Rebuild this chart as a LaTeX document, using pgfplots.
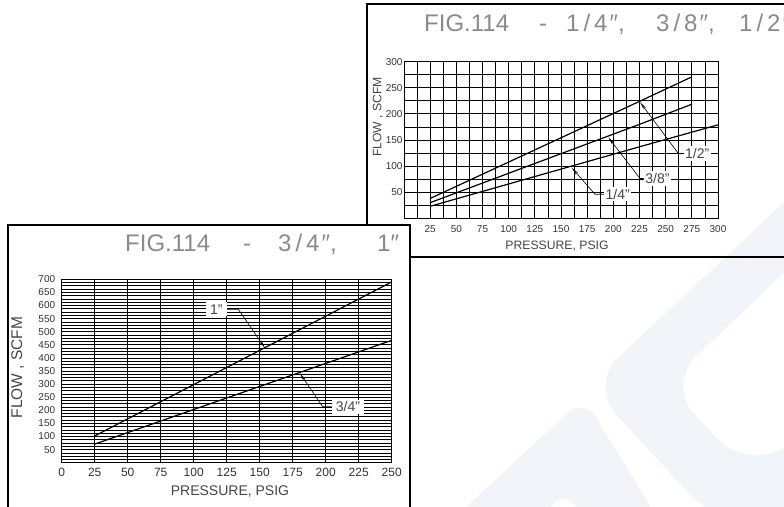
\documentclass[border=0pt]{standalone}
\usepackage{fontspec}
\setmainfont{Liberation Sans}
\usepackage{pgfplots}
\pgfplotsset{compat=1.18}
\usetikzlibrary{arrows.meta}
\definecolor{wm}{HTML}{F1F5FA}
\definecolor{ttl}{HTML}{8A8A8A}
\definecolor{lbl}{HTML}{454545}
\definecolor{tck}{HTML}{333333}
\tikzset{lead/.style={black, line width=0.6pt, -{Stealth[length=8pt,width=2.6pt]}}}
\begin{document}
\begin{tikzpicture}
\path[use as bounding box] (0,0) rectangle (784pt,506pt);
\clip (0,0) rectangle (784pt,506pt);
% ---------- background and top frame (pixel coordinates, y downwards)
\begin{scope}[x=1pt,y=-1pt,shift={(0pt,506pt)}]
  \fill[wm, rounded corners=40pt] (830,159) -- (589,385) -- (716,523) -- (830,523) -- (830,424) -- (744,468) -- (667,384) -- (830,229) -- cycle;
  \fill[wm, rounded corners=22pt] (452,520) -- (584,398) -- (659,520) -- cycle;
  \fill[white, rounded corners=8pt] (536,522) -- (563,495) -- (592,522) -- cycle;
  \draw[black, line width=2pt] (367,4) rectangle (800,256.8);
  \begin{scope}[every node/.style={anchor=base west, text=ttl, inner sep=0pt, font=\fontsize{24}{24}\selectfont}]
    \node at (424,31.7) {FIG.114};
    \node at (539,31.7) {-};
    \node at (566,31.7) {1\hspace{4pt}/\hspace{4pt}4\hspace{2pt}″,};
    \node at (656,31.7) {3\hspace{4pt}/\hspace{4pt}8\hspace{2pt}″,};
    \node at (739,31.7) {1\hspace{4pt}/\hspace{4pt}2\hspace{2pt}″};
  \end{scope}
  \node[rotate=90, text=lbl, font=\fontsize{12.2}{13}\selectfont] at (378,117) {FLOW , SCFM};
  \node[text=lbl, font=\fontsize{12.2}{13}\selectfont] at (557,246.5) {PRESSURE, PSIG};
\end{scope}
% ---------- top chart: 1/4", 3/8", 1/2"
\begin{axis}[
  at={(404pt,287.7pt)}, anchor=south west, scale only axis,
  width=314pt, height=156.6pt,
  xmin=0, xmax=300, ymin=0, ymax=300,
  xtick={25,50,...,300}, ytick={50,100,...,300},
  minor xtick={0,12.5,...,300}, minor ytick={0,25,...,300},
  grid=both,
  major grid style={black, line width=0.8pt},
  minor grid style={black, line width=0.8pt},
  major tick length=0pt, minor tick length=0pt,
  axis line style={black, line width=0.9pt},
  tick label style={font=\fontsize{10}{12}\selectfont, text=tck},
  /pgf/number format/assume math mode=true,
  xticklabel style={yshift=-3.5pt},
  yticklabel style={xshift=2pt},
  clip=false,
]
\addplot[black, line width=1.2pt] coordinates {(25,38) (125,131) (225,224) (274,270)};
\addplot[black, line width=1.2pt] coordinates {(25,30) (125,105) (225,180) (275,218.5)};
\addplot[black, line width=1.2pt] coordinates {(25,23) (125,80) (225,137) (300,179)};
\draw[lead] (axis cs:267,124.2) -- (axis cs:262.1,124.2) -- (axis cs:225.5,222.5);
\draw[lead] (axis cs:229,76.2) -- (axis cs:225.5,76.2) -- (axis cs:195.2,155);
\draw[lead] (axis cs:191,46.1) -- (axis cs:182.5,46.1) -- (axis cs:160.2,97);
\begin{scope}[every node/.style={fill=white, inner xsep=1.5pt, inner ysep=2pt, text=lbl, font=\fontsize{14}{14}\selectfont, anchor=west}]
  \node at (axis cs:267,124.2) {1/2"};
  \node at (axis cs:229,76.2) {3/8"};
  \node at (axis cs:191,46.1) {1/4"};
\end{scope}
\end{axis}
% ---------- bottom frame
\begin{scope}[x=1pt,y=-1pt,shift={(0pt,506pt)}]
  \filldraw[fill=white, draw=black, line width=2pt] (8,225.3) rectangle (409.5,540);
  \begin{scope}[every node/.style={anchor=base west, text=ttl, inner sep=0pt, font=\fontsize{24}{24}\selectfont}]
    \node at (125,251.5) {FIG.114};
    \node at (243,251.5) {-};
    \node at (278,251.5) {3\hspace{4pt}/\hspace{4pt}4\hspace{2pt}″,};
    \node at (377,251.5) {1″};
  \end{scope}
  \node[rotate=90, text=lbl, font=\fontsize{15.5}{16}\selectfont] at (17.7,367.5) {FLOW , SCFM};
  \node[text=lbl, font=\fontsize{14}{15}\selectfont] at (230,491.7) {PRESSURE, PSIG};
\end{scope}
% ---------- bottom chart: 3/4", 1"
\begin{axis}[
  at={(61.7pt,43.3pt)}, anchor=south west, scale only axis,
  width=330pt, height=183.4pt,
  xmin=0, xmax=250, ymin=0, ymax=700,
  xtick={0,25,...,250}, ytick={50,100,...,700},
  minor ytick={0,12.5,...,700},
  grid=both,
  major grid style={black, line width=0.75pt},
  minor grid style={black, line width=0.75pt},
  major tick length=0pt, minor tick length=0pt,
  axis line style={black, line width=0.9pt},
  tick label style={text=tck},
  xticklabel style={font=\fontsize{12}{13}\selectfont, yshift=-2pt},
  yticklabel style={font=\fontsize{10}{12}\selectfont, xshift=-3pt},
  /pgf/number format/assume math mode=true,
  clip=false,
]
\addplot[black, line width=1.2pt] coordinates {(25,102) (100,298) (175,494) (250,690)};
\addplot[black, line width=1.2pt] coordinates {(25,71) (100,203) (175,335) (250,467)};
\draw[lead] (axis cs:125,585.5) -- (axis cs:133.8,585.5) -- (axis cs:154,438);
\draw[lead] (axis cs:204.5,213.8) -- (axis cs:197.7,213.8) -- (axis cs:180.5,341);
\begin{scope}[every node/.style={fill=white, inner xsep=4pt, inner ysep=2pt, text=lbl, font=\fontsize{14}{14}\selectfont}]
  \node[anchor=east] at (axis cs:125,585.5) {1"};
  \node[anchor=west] at (axis cs:204.5,213.8) {3/4"};
\end{scope}
\end{axis}
\end{tikzpicture}
\end{document}
